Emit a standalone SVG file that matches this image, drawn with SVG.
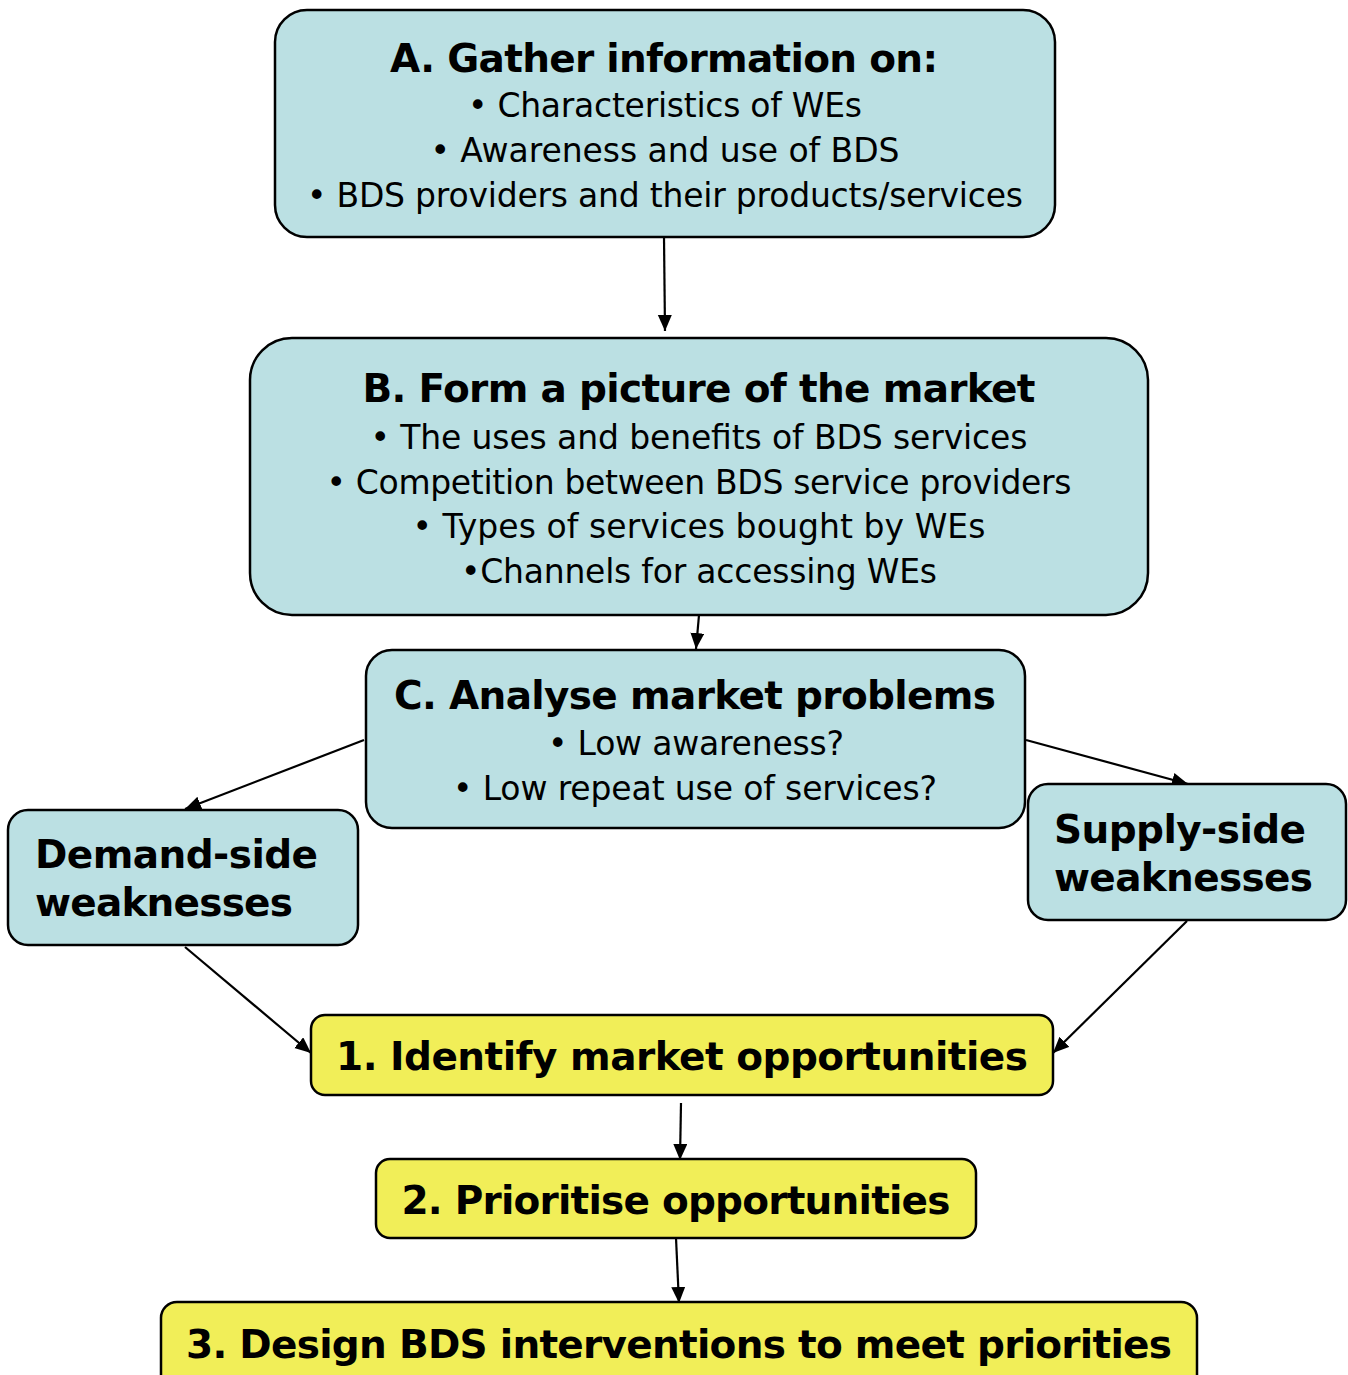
<svg xmlns="http://www.w3.org/2000/svg" width="1348" height="1375" viewBox="0 0 1348 1375">
<style>
.t{fill:#bbe0e3;stroke:#000;stroke-width:2.5}
.y{fill:#f1ee58;stroke:#000;stroke-width:2.5}
text{font-family:"DejaVu Sans",Verdana,sans-serif;fill:#000}
.h{font-weight:bold;font-size:39px}
.b{font-size:33px}
.c{text-anchor:middle}
.e{stroke:#000;stroke-width:2.2;fill:none;marker-end:url(#ah)}
</style>
<defs>
<marker id="ah" markerUnits="userSpaceOnUse" markerWidth="18" markerHeight="16" refX="16" refY="7" orient="auto">
<path d="M0,0 L16,7 L0,14 Z" fill="#000"/>
</marker>
</defs>
<rect width="1348" height="1375" fill="#fff"/>
<g id="connectors">
<line class="e" x1="664" y1="237" x2="665" y2="331"/>
<line class="e" x1="699" y1="615" x2="696" y2="649"/>
<line class="e" x1="364" y1="740" x2="185" y2="809"/>
<line class="e" x1="1026" y1="740" x2="1188" y2="784"/>
<line class="e" x1="185" y1="947" x2="311" y2="1053"/>
<line class="e" x1="1187" y1="921" x2="1053" y2="1053"/>
<line class="e" x1="681" y1="1103" x2="680" y2="1160"/>
<line class="e" x1="676" y1="1238" x2="679" y2="1303"/>
</g>
<g id="nodeA">
<rect class="t" x="275" y="10" width="780" height="227" rx="32"/>
<text class="h c" x="664" y="72" textLength="548">A. Gather information on:</text>
<text class="b c" x="665" y="117" textLength="394">• Characteristics of WEs</text>
<text class="b c" x="665" y="162" textLength="469">• Awareness and use of BDS</text>
<text class="b c" x="665" y="207" textLength="716">• BDS providers and their products/services</text>
</g>
<g id="nodeB">
<rect class="t" x="250" y="338" width="898" height="277" rx="42"/>
<text class="h c" x="699" y="402" textLength="673">B. Form a picture of the market</text>
<text class="b c" x="699" y="449" textLength="657">• The uses and benefits of BDS services</text>
<text class="b c" x="699" y="494" textLength="745">• Competition between BDS service providers</text>
<text class="b c" x="699" y="538" textLength="573">• Types of services bought by WEs</text>
<text class="b c" x="699" y="583" textLength="476">•Channels for accessing WEs</text>
</g>
<g id="nodeC">
<rect class="t" x="366" y="650" width="659" height="178" rx="26"/>
<text class="h c" x="695" y="709" textLength="602">C. Analyse market problems</text>
<text class="b c" x="696" y="755" textLength="296">• Low awareness?</text>
<text class="b c" x="695" y="800" textLength="484">• Low repeat use of services?</text>
</g>
<g id="demand">
<rect class="t" x="8" y="810" width="350" height="135" rx="20"/>
<text class="h" x="35" y="868" textLength="283">Demand-side</text>
<text class="h" x="35" y="916" textLength="258">weaknesses</text>
</g>
<g id="supply">
<rect class="t" x="1028" y="784" width="318" height="136" rx="20"/>
<text class="h" x="1054" y="843" textLength="252">Supply-side</text>
<text class="h" x="1054" y="891" textLength="259">weaknesses</text>
</g>
<g id="step1">
<rect class="y" x="311" y="1015" width="742" height="80" rx="14"/>
<text class="h c" x="682" y="1070" textLength="692">1. Identify market opportunities</text>
</g>
<g id="step2">
<rect class="y" x="376" y="1159" width="600" height="79" rx="14"/>
<text class="h c" x="676" y="1214" textLength="549">2. Prioritise opportunities</text>
</g>
<g id="step3">
<rect class="y" x="161" y="1302" width="1036" height="90" rx="16"/>
<text class="h c" x="679" y="1358" textLength="986">3. Design BDS interventions to meet priorities</text>
</g>
</svg>
